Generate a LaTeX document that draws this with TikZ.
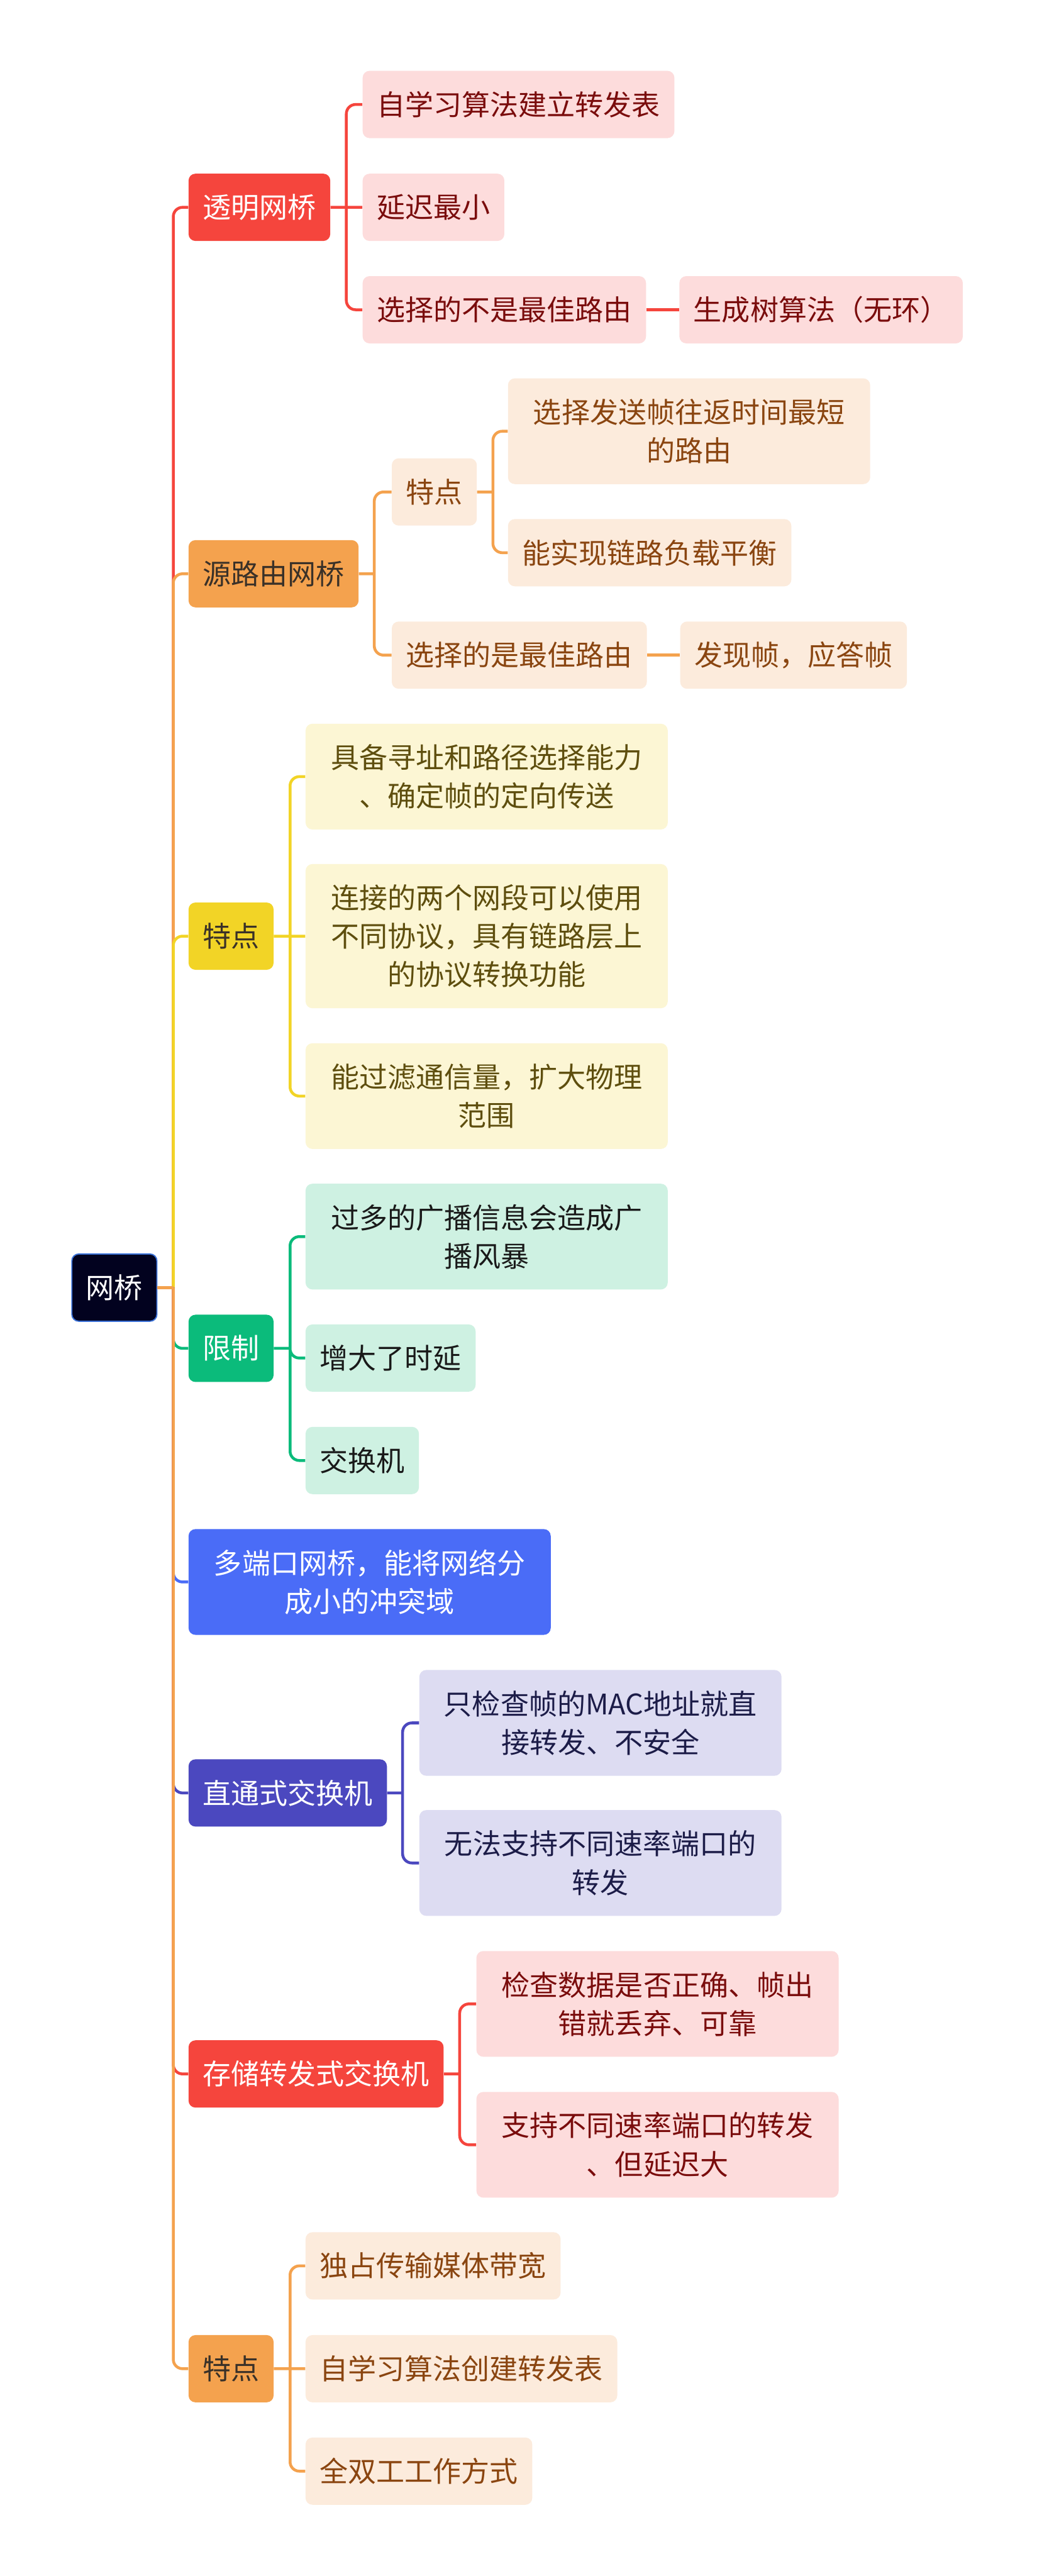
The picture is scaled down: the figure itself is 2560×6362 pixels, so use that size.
\documentclass[tikz,border=0pt]{standalone}
\usepackage{fontspec}
\newfontfamily\cjk{Noto Sans CJK SC}
\usetikzlibrary{positioning}

\definecolor{brRed}{HTML}{F5453D}
\definecolor{brRedL}{HTML}{FDDCDC}
\definecolor{brRedT}{HTML}{7A0C0C}
\definecolor{brOra}{HTML}{F4A24E}
\definecolor{brOraL}{HTML}{FCEBDC}
\definecolor{brOraT}{HTML}{8A4510}
\definecolor{brYel}{HTML}{F2D426}
\definecolor{brYelL}{HTML}{FCF6D4}
\definecolor{brYelT}{HTML}{5E4E0E}
\definecolor{brGrn}{HTML}{0BBB7B}
\definecolor{brGrnL}{HTML}{CEF1E2}
\definecolor{brBlu}{HTML}{4A6CF7}
\definecolor{brInd}{HTML}{4B48BF}
\definecolor{brIndL}{HTML}{DDDCF2}
\definecolor{brIndT}{HTML}{1C1C48}
\definecolor{brNavy}{HTML}{02021F}
\definecolor{brEdge}{HTML}{3B72D8}
\definecolor{brDark}{HTML}{3A3128}

\begin{document}
\begin{tikzpicture}[
  x=0.01cm, y=-0.01cm,
  every node/.style={font=\cjk\fontsize{19.9pt}{27pt}\selectfont},
  box/.style={rounded corners=0.17cm,inner xsep=0.35cm,inner ysep=0.1cm,minimum height=1.66cm,anchor=west},
  wide/.style={box,text width=7.74cm,align=center,inner xsep=0.6cm},
  two/.style={wide,minimum height=2.61cm},
  three/.style={wide,minimum height=3.56cm},
  tone/.style 2 args={fill=#1,text=#2},
  link/.style={line width=0.07cm,rounded corners=0.23cm}
]
  \fill[white] (0,0) rectangle (2560,6362);
  \useasboundingbox (0,0) rectangle (2560,6362);

  % root and main branches
  \node[box,fill=brNavy,draw=brEdge,line width=0.03cm,text=white] (root) at (176,3180) {网桥};
  \node[box,tone={brRed}{white}] (tm) at (465,512) {透明网桥};
  \node[box,tone={brOra}{brDark}] (yl) at (465,1417) {源路由网桥};
  \node[box,tone={brYel}{brDark}] (td) at (465,2312) {特点};
  \node[box,tone={brGrn}{white}] (xz) at (465,3330) {限制};
  \node[two,tone={brBlu}{white}] (dk) at (465,3907) {多端口网桥，能将网络分\\成小的冲突域};
  \node[box,tone={brInd}{white}] (zt) at (465,4428) {直通式交换机};
  \node[box,tone={brRed}{white}] (cc) at (465,5122) {存储转发式交换机};
  \node[box,tone={brOra}{brDark}] (tb) at (465,5850) {特点};

  % transparent bridge
  \node[box,tone={brRedL}{brRedT}] (tm1) at (895,258) {自学习算法建立转发表};
  \node[box,tone={brRedL}{brRedT}] (tm2) at (895,512) {延迟最小};
  \node[box,tone={brRedL}{brRedT}] (tm3) at (895,765) {选择的不是最佳路由};
  \node[box,tone={brRedL}{brRedT},right=0.81cm of tm3] (tm4) {生成树算法（无环）};

  % source routing bridge
  \node[box,tone={brOraL}{brOraT}] (yt) at (967,1215) {特点};
  \node[two,tone={brOraL}{brOraT}] (yt1) at (1254,1065) {选择发送帧往返时间最短\\的路由};
  \node[box,tone={brOraL}{brOraT}] (yt2) at (1254,1365) {能实现链路负载平衡};
  \node[box,tone={brOraL}{brOraT}] (yl2) at (967,1618) {选择的是最佳路由};
  \node[box,tone={brOraL}{brOraT},right=0.81cm of yl2] (yl3) {发现帧，应答帧};

  % features
  \node[two,tone={brYelL}{brYelT}] (td1) at (754,1918) {具备寻址和路径选择能力\\、确定帧的定向传送};
  \node[three,tone={brYelL}{brYelT}] (td2) at (754,2312) {连接的两个网段可以使用\\不同协议，具有链路层上\\的协议转换功能};
  \node[two,tone={brYelL}{brYelT}] (td3) at (754,2707) {能过滤通信量，扩大物理\\范围};

  % limits
  \node[two,tone={brGrnL}{black!90}] (xz1) at (754,3054) {过多的广播信息会造成广\\播风暴};
  \node[box,tone={brGrnL}{black!90}] (xz2) at (754,3354) {增大了时延};
  \node[box,tone={brGrnL}{black!90}] (xz3) at (754,3607) {交换机};

  % switches
  \node[two,tone={brIndL}{brIndT}] (zt1) at (1035,4255) {只检查帧的MAC地址就直\\接转发、不安全};
  \node[two,tone={brIndL}{brIndT}] (zt2) at (1035,4601) {无法支持不同速率端口的\\转发};
  \node[two,tone={brRedL}{brRedT}] (cc1) at (1176,4949) {检查数据是否正确、帧出\\错就丢弃、可靠};
  \node[two,tone={brRedL}{brRedT}] (cc2) at (1176,5297) {支持不同速率端口的转发\\、但延迟大};
  \node[box,tone={brOraL}{brOraT}] (tb1) at (754,5596) {独占传输媒体带宽};
  \node[box,tone={brOraL}{brOraT}] (tb2) at (754,5850) {自学习算法创建转发表};
  \node[box,tone={brOraL}{brOraT}] (tb3) at (754,6103) {全双工工作方式};

  % junctions
  \coordinate (rj) at (428,3180);
  \coordinate (tmj) at ([xshift=0.39cm]tm.east);
  \coordinate (ylj) at ([xshift=0.38cm]yl.east);
  \coordinate (ytj) at ([xshift=0.39cm]yt.east);
  \coordinate (tdj) at ([xshift=0.4cm]td.east);
  \coordinate (xzj) at ([xshift=0.4cm]xz.east);
  \coordinate (ztj) at ([xshift=0.38cm]zt.east);
  \coordinate (ccj) at ([xshift=0.39cm]cc.east);
  \coordinate (tbj) at ([xshift=0.4cm]tb.east);

  \draw[link,brRed] (rj) |- (tm.west);
  \draw[link,brOra] (rj) |- (yl.west);
  \draw[link,brYel] (rj) |- (td.west);
  \draw[link,brGrn] (rj) |- (xz.west);
  \draw[link,brBlu] (rj) |- (dk.west);
  \draw[link,brInd] (rj) |- (zt.west);
  \draw[link,brRed] (rj) |- (cc.west);
  \draw[link,brOra] (rj) |- (tb.west);
  \draw[link,brOra] (root.east) -- (rj);

  \draw[link,brRed] (tm.east) -- (tmj) (tmj) |- (tm1.west) (tmj) -- (tm2.west) (tmj) |- (tm3.west);
  \draw[link,brRed] (tm3) -- (tm4);
  \draw[link,brOra] (yl.east) -- (ylj) (ylj) |- (yt.west) (ylj) |- (yl2.west);
  \draw[link,brOra] (yt.east) -- (ytj) (ytj) |- (yt1.west) (ytj) |- (yt2.west);
  \draw[link,brOra] (yl2) -- (yl3);
  \draw[link,brYel] (td.east) -- (tdj) (tdj) |- (td1.west) (tdj) -- (td2.west) (tdj) |- (td3.west);
  \draw[link,brGrn] (xz.east) -- (xzj) (xzj) |- (xz1.west) (xzj) |- (xz2.west) (xzj) |- (xz3.west);
  \draw[link,brInd] (zt.east) -- (ztj) (ztj) |- (zt1.west) (ztj) |- (zt2.west);
  \draw[link,brRed] (cc.east) -- (ccj) (ccj) |- (cc1.west) (ccj) |- (cc2.west);
  \draw[link,brOra] (tb.east) -- (tbj) (tbj) |- (tb1.west) (tbj) -- (tb2.west) (tbj) |- (tb3.west);
\end{tikzpicture}
\end{document}
